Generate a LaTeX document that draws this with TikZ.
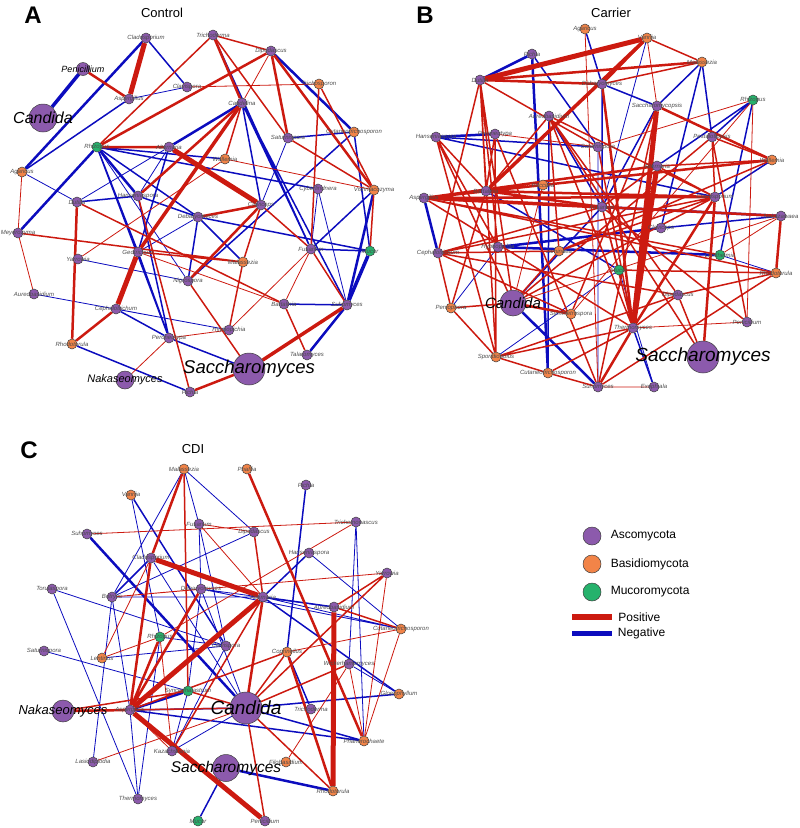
\documentclass[tikz,border=0pt]{standalone}
\usepackage{fontspec}
\setmainfont{Liberation Sans}
\usetikzlibrary{backgrounds}
\definecolor{ascoc}{RGB}{140,90,172}
\definecolor{basic}{RGB}{242,132,72}
\definecolor{mucoc}{RGB}{38,178,108}
\definecolor{posc}{RGB}{204,26,16}
\definecolor{negc}{RGB}{12,12,190}
\begin{document}
\begin{tikzpicture}[
    x=1pt, y=-1pt,
    taxon/.style={circle, draw=black!75, line width=0.5pt, inner sep=0pt, minimum size=10pt},
    asco/.style={taxon, fill=ascoc},
    basi/.style={taxon, fill=basic},
    muco/.style={taxon, fill=mucoc},
    lab/.style={font=\fontsize{6}{6}\selectfont\itshape, text=black!70, inner sep=0pt},
    big/.style={font=\fontsize{#1}{#1}\selectfont\itshape, text=black, inner sep=0pt},
    panel/.style={font=\fontsize{24}{24}\selectfont\bfseries},
    title/.style={font=\fontsize{13}{13}\selectfont},
    legtext/.style={font=\fontsize{12}{12}\selectfont},
    posedge/.style={draw=posc},
    negedge/.style={draw=negc},
    w1/.style={line width=0.8pt},
    w2/.style={line width=1.5pt},
    w3/.style={line width=2.5pt},
    w4/.style={line width=3.5pt},
    w5/.style={line width=5pt}
]
\useasboundingbox (0,0) rectangle (800,828);

% ==================== PANEL A: Control ====================
\node[panel] (aTag) at (33,15) {A};
\node[title] (aTitle) at (162,13) {Control};
\node[asco, label={[lab]center:Cladosporium}] (aCla) at (146,38) {};
\node[asco, minimum size=13pt, label={[big=9]center:Penicillium}] (aPen) at (83,69) {};
\node[asco, label={[lab]center:Aspergillus}] (aAsp) at (129,99) {};
\node[asco, minimum size=28pt, label={[big=16]center:Candida}] (aCan) at (43,118) {};
\node[asco, label={[lab]center:Clavispora}] (aClv) at (187,87) {};
\node[muco, label={[lab]center:Rhizopus}] (aRhi) at (97,147) {};
\node[asco, label={[lab]center:Alternaria}] (aAlt) at (169,147) {};
\node[basi, label={[lab]center:Agaricus}] (aAga) at (22,172) {};
\node[asco, label={[lab]center:Dutilia}] (aDut) at (77,202) {};
\node[asco, label={[lab]center:Hanseniaspora}] (aHan) at (138,196) {};
\node[asco, label={[lab]center:Trichoderma}] (aTri) at (213,35) {};
\node[asco, label={[lab]center:Dipodascus}] (aDip) at (271,51) {};
\node[basi, label={[lab]center:Trichosporon}] (aTrs) at (319,84) {};
\node[asco, label={[lab]center:Candelina}] (aCna) at (242,103) {};
\node[asco, label={[lab]center:Saturnispora}] (aSat) at (288,138) {};
\node[basi, label={[lab]center:Cutaneotrichosporon}] (aCut) at (354,132) {};
\node[basi, label={[lab]center:Wallemia}] (aWal) at (225,159) {};
\node[asco, label={[lab]center:Cyberlindnera}] (aCyb) at (318,189) {};
\node[basi, label={[lab]center:Vishniacozyma}] (aVis) at (374,190) {};
\node[asco, label={[lab]center:Claviceps}] (aClp) at (261,205) {};
\node[asco, label={[lab]center:Debaryomyces}] (aDeb) at (198,217) {};
\node[asco, label={[lab]center:Meyerozyma}] (aMey) at (18,233) {};
\node[asco, label={[lab]center:Yarrowia}] (aYar) at (78,259) {};
\node[asco, label={[lab]center:Geotrichum}] (aGeo) at (138,252) {};
\node[asco, label={[lab]center:Nigrospora}] (aNig) at (188,281) {};
\node[asco, label={[lab]center:Aureobasidium}] (aAur) at (34,294) {};
\node[asco, label={[lab]center:Cephalotrichum}] (aCep) at (116,309) {};
\node[asco, label={[lab]center:Peroneutypa}] (aPer) at (169,338) {};
\node[basi, label={[lab]center:Rhodotorula}] (aRho) at (72,344) {};
\node[asco, minimum size=18pt, label={[big=11]center:Nakaseomyces}] (aNak) at (125,380) {};
\node[asco, label={[lab]center:Pichia}] (aPic) at (190,392) {};
\node[basi, label={[lab]center:Malassezia}] (aMal) at (243,262) {};
\node[asco, label={[lab]center:Fusarium}] (aFus) at (311,249) {};
\node[muco, label={[lab]center:Mucor}] (aMuc) at (370,251) {};
\node[asco, label={[lab]center:Bartalinia}] (aBar) at (284,304) {};
\node[asco, label={[lab]center:Suhomyces}] (aSuh) at (347,305) {};
\node[asco, label={[lab]center:Talaromyces}] (aTal) at (307,355) {};
\node[asco, label={[lab]center:Hyphopichia}] (aHyp) at (229,330) {};
\node[asco, minimum size=32pt, label={[big=18.5]center:Saccharomyces}] (aSac) at (249,369) {};

% ==================== PANEL B: Carrier ====================
\node[panel] (bTag) at (425,15) {B};
\node[title] (bTitle) at (611,13) {Carrier};
\node[basi, label={[lab]center:Agaricus}] (bAga) at (585,29) {};
\node[basi, label={[lab]center:Vanrija}] (bVan) at (647,38) {};
\node[asco, label={[lab]center:Pichia}] (bPic) at (532,54) {};
\node[asco, label={[lab]center:Dutilia}] (bDut) at (480,80) {};
\node[asco, label={[lab]center:Debaryomyces}] (bDeb) at (602,84) {};
\node[basi, label={[lab]center:Malassezia}] (bMal) at (702,62) {};
\node[muco, label={[lab]center:Rhizopus}] (bRhi) at (753,100) {};
\node[asco, label={[lab]center:Saccharomycopsis}] (bSca) at (657,106) {};
\node[asco, label={[lab]center:Aureobasidium}] (bAur) at (549,116) {};
\node[asco, label={[lab]center:Hanseniaspora}] (bHan) at (436,137) {};
\node[asco, label={[lab]center:Peroneutypa}] (bPer) at (495,134) {};
\node[asco, label={[lab]center:Pestalotiopsis}] (bPes) at (712,137) {};
\node[asco, label={[lab]center:Saturnispora}] (bSat) at (598,147) {};
\node[basi, label={[lab]center:Wallemia}] (bWal) at (772,160) {};
\node[asco, label={[lab]center:Alternaria}] (bAlt) at (657,166) {};
\node[basi, label={[lab]center:Puccinia}] (bPuc) at (543,185) {};
\node[asco, label={[lab]center:Bartalinia}] (bBar) at (486,191) {};
\node[asco, label={[lab]center:Aspergillus}] (bAsp) at (424,198) {};
\node[asco, label={[lab]center:Cladosporium}] (bCla) at (715,197) {};
\node[asco, label={[lab]center:Fusarium}] (bFus) at (602,207) {};
\node[asco, label={[lab]center:Nakazawaea}] (bNak) at (781,216) {};
\node[asco, label={[lab]center:Claviceps}] (bClp) at (661,228) {};
\node[asco, label={[lab]center:Hyphopichia}] (bHyp) at (498,247) {};
\node[asco, label={[lab]center:Cephalotrichum}] (bCep) at (438,253) {};
\node[basi, label={[lab]center:Jaminaea}] (bJam) at (559,251) {};
\node[muco, label={[lab]center:Lichtheimia}] (bLic) at (720,255) {};
\node[muco, label={[lab]center:Mucor}] (bMuc) at (619,270) {};
\node[basi, label={[lab]center:Rhodotorula}] (bRho) at (776,273) {};
\node[asco, label={[lab]center:Dipodascus}] (bDip) at (678,295) {};
\node[asco, minimum size=26pt, label={[big=15]center:Candida}] (bCan) at (513,303) {};
\node[basi, label={[lab]center:Peniophora}] (bPep) at (451,308) {};
\node[basi, label={[lab]center:Symmetrospora}] (bSym) at (571,314) {};
\node[asco, label={[lab]center:Penicillium}] (bPnc) at (747,322) {};
\node[asco, label={[lab]center:Thermomyces}] (bThe) at (633,328) {};
\node[basi, label={[lab]center:Sporidiobolus}] (bSpo) at (496,357) {};
\node[asco, minimum size=32pt, label={[big=19]center:Saccharomyces}] (bSac) at (703,357) {};
\node[basi, label={[lab]center:Cutaneotrichosporon}] (bCut) at (548,373) {};
\node[asco, label={[lab]center:Suhomyces}] (bSuh) at (598,387) {};
\node[asco, label={[lab]center:Exophiala}] (bExo) at (654,387) {};

% ==================== PANEL C: CDI ====================
\node[panel] (cTag) at (29,450) {C};
\node[title] (cTitle) at (193,449) {CDI};
\node[basi, label={[lab]center:Malassezia}] (cMal) at (184,469) {};
\node[basi, label={[lab]center:Phaffia}] (cPhf) at (247,469) {};
\node[asco, label={[lab]center:Pichia}] (cPic) at (306,485) {};
\node[basi, label={[lab]center:Vanrija}] (cVan) at (131,495) {};
\node[asco, label={[lab]center:Trichomonascus}] (cTmc) at (356,522) {};
\node[asco, label={[lab]center:Fusarium}] (cFus) at (199,524) {};
\node[asco, label={[lab]center:Dipodascus}] (cDip) at (254,532) {};
\node[asco, label={[lab]center:Suhomyces}] (cSuh) at (87,534) {};
\node[asco, label={[lab]center:Hanseniaspora}] (cHan) at (309,553) {};
\node[asco, label={[lab]center:Cladosporium}] (cCla) at (151,558) {};
\node[asco, label={[lab]center:Yarrowia}] (cYar) at (387,573) {};
\node[asco, label={[lab]center:Torulaspora}] (cTor) at (52,589) {};
\node[asco, label={[lab]center:Debaryomyces}] (cDeb) at (201,589) {};
\node[asco, label={[lab]center:Botrytis}] (cBot) at (112,597) {};
\node[asco, label={[lab]center:Alternaria}] (cAlt) at (263,597) {};
\node[asco, label={[lab]center:Aureobasidium}] (cAur) at (334,607) {};
\node[basi, label={[lab]center:Cutaneotrichosporon}] (cCut) at (401,629) {};
\node[muco, label={[lab]center:Rhizopus}] (cRhi) at (160,637) {};
\node[asco, label={[lab]center:Clavispora}] (cClv) at (226,646) {};
\node[asco, label={[lab]center:Saturnispora}] (cSat) at (44,651) {};
\node[basi, label={[lab]center:Lentinus}] (cLow) at (102,658) {};
\node[basi, label={[lab]center:Coprinellus}] (cCop) at (287,652) {};
\node[asco, label={[lab]center:Wickerhamomyces}] (cWic) at (349,664) {};
\node[muco, label={[lab]center:Syncephalastrum}] (cSyn) at (188,691) {};
\node[basi, label={[lab]center:Gloeophyllum}] (cGlo) at (399,694) {};
\node[asco, label={[lab]center:Aspergillus}] (cAsp) at (130,710) {};
\node[asco, minimum size=22pt, label={[big=13]center:Nakaseomyces}] (cNak) at (63,711) {};
\node[asco, label={[lab]center:Trichoderma}] (cTri) at (311,709) {};
\node[basi, label={[lab]center:Phanerochaete}] (cPhn) at (364,741) {};
\node[asco, label={[lab]center:Kazachstania}] (cKaz) at (172,751) {};
\node[asco, label={[lab]center:Lasiodiplodia}] (cLsd) at (93,762) {};
\node[basi, label={[lab]center:Filobasidium}] (cFil) at (286,762) {};
\node[basi, label={[lab]center:Rhodotorula}] (cRho) at (333,791) {};
\node[asco, label={[lab]center:Thermomyces}] (cThe) at (138,799) {};
\node[muco, label={[lab]center:Mucor}] (cMuc) at (198,821) {};
\node[asco, label={[lab]center:Penicillium}] (cPen) at (265,821) {};
\node[asco, minimum size=32pt, label={[big=19]center:Candida}] (cCan) at (246,708) {};
\node[asco, minimum size=27pt, label={[big=15.5]center:Saccharomyces}] (cSac) at (226,768) {};

% ==================== LEGEND ====================
\node[asco, minimum size=18pt, label={[legtext, xshift=6pt]right:Ascomycota}] (legAsco) at (592,536) {};
\node[basi, minimum size=18pt, label={[legtext, xshift=6pt]right:Basidiomycota}] (legBasi) at (592,564) {};
\node[muco, minimum size=18pt, label={[legtext, xshift=6pt]right:Mucoromycota}] (legMuco) at (592,592) {};
\coordinate (legPosL) at (572,617);
\coordinate (legPosR) at (612,617);
\coordinate (legNegL) at (572,633);
\coordinate (legNegR) at (612,633);
\draw[posedge, line width=6pt] (legPosL) -- (legPosR) node[legtext, right, text=black] (legPos) {Positive};
\draw[negedge, line width=5pt] (legNegL) -- (legNegR) node[legtext, right, text=black] (legNeg) {Negative};

% ==================== EDGES ====================
\begin{pgfonlayer}{background}
% panel A
\draw[negedge, w1] (aAga) -- (aDut) (aAlt) -- (aDut) (aAlt) -- (aHan) (aSat) -- (aClp) (aFus) -- (aCyb)
  (aSuh) -- (aCyb) (aYar) -- (aNig) (aAur) -- (aHyp) (aCep) -- (aHyp) (aGeo) -- (aDeb) (aRhi) -- (aNig)
  (aAsp) -- (aClv);
\draw[negedge, w2] (aCla) -- (aClv) (aAsp) -- (aAga) (aRhi) -- (aGeo) (aRhi) -- (aPer) (aRhi) -- (aWal)
  (aRhi) -- (aCyb) (aRhi) -- (aDeb) (aAlt) -- (aGeo) (aCna) -- (aClp) (aCna) -- (aFus) (aCna) -- (aSuh)
  (aTri) -- (aFus) (aSat) -- (aCut) (aCut) -- (aNig) (aCut) -- (aMuc) (aVis) -- (aFus) (aDeb) -- (aMuc)
  (aDeb) -- (aMal) (aDeb) -- (aNig) (aFus) -- (aMuc) (aBar) -- (aSuh) (aRho) -- (aPic) (aCep) -- (aPer)
  (aPer) -- (aSac) (aGeo) -- (aPer) (aHan) -- (aPer) (aHan) -- (aDeb) (aDut) -- (aHan);
\draw[negedge, w3] (aCla) -- (aAga) (aRhi) -- (aMey) (aRhi) -- (aHan) (aCna) -- (aAlt) (aDip) -- (aCut)
  (aVis) -- (aSuh) (aTal) -- (aSuh);
\draw[negedge, w4] (aCan) -- (aPen) (aMuc) -- (aSuh);
\draw[posedge, w1] (aAga) -- (aMey) (aMey) -- (aAur) (aClv) -- (aTrs) (aDip) -- (aCna) (aYar) -- (aWal)
  (aNak) -- (aPer) (aWal) -- (aVis) (aHyp) -- (aFus) (aFus) -- (aBar) (aPer) -- (aHyp) (aGeo) -- (aBar);
\draw[posedge, w2] (aMey) -- (aMal) (aDut) -- (aBar) (aPic) -- (aHan) (aGeo) -- (aMal) (aTri) -- (aRhi)
  (aTri) -- (aDip) (aTri) -- (aSat) (aTrs) -- (aFus) (aSat) -- (aVis) (aTrs) -- (aVis) (aCna) -- (aWal)
  (aMal) -- (aHyp) (aClp) -- (aMal) (aClp) -- (aFus) (aNig) -- (aSac) (aFus) -- (aSuh) (aBar) -- (aTal)
  (aVis) -- (aMuc);
\draw[posedge, w3] (aPen) -- (aAsp) (aDut) -- (aRho) (aRho) -- (aCep) (aRhi) -- (aAlt) (aRhi) -- (aDip)
  (aTri) -- (aCna) (aDip) -- (aSat) (aDip) -- (aVis) (aCna) -- (aHan) (aClp) -- (aDeb) (aClp) -- (aNig)
  (aSac) -- (aPic);
\draw[posedge, w4] (aCna) -- (aGeo) (aSac) -- (aSuh);
\draw[posedge, w5] (aCla) -- (aAsp) (aCep) -- (aGeo) (aAlt) -- (aClp);
% panel B
\draw[negedge, w1] (bVan) -- (bFus) (bPep) -- (bHyp) (bSpo) -- (bMuc) (bExo) -- (bMuc) (bLic) -- (bRho)
  (bSuh) -- (bSat);
\draw[negedge, w2] (bAga) -- (bDeb) (bPic) -- (bSat) (bMal) -- (bSca) (bMal) -- (bClp) (bDeb) -- (bSca)
  (bRhi) -- (bPes) (bRhi) -- (bAlt) (bRhi) -- (bLic) (bWal) -- (bCla) (bHan) -- (bCla) (bNak) -- (bClp)
  (bThe) -- (bExo) (bAur) -- (bCut) (bAur) -- (bFus) (bHan) -- (bSat) (bBar) -- (bMuc) (bSca) -- (bFus)
  (bDeb) -- (bFus) (bMal) -- (bPes) (bCan) -- (bFus);
\draw[negedge, w3] (bPic) -- (bDut) (bPic) -- (bCut) (bHan) -- (bPer) (bAsp) -- (bCep) (bHyp) -- (bClp)
  (bSuh) -- (bCan) (bNak) -- (bFus) (bHyp) -- (bLic);
\draw[posedge, w1] (bVan) -- (bSca) (bSat) -- (bRhi) (bPer) -- (bSat) (bRhi) -- (bPnc) (bPuc) -- (bBar)
  (bPuc) -- (bCan) (bMuc) -- (bFus) (bSuh) -- (bExo) (bThe) -- (bPnc) (bNak) -- (bLic) (bAga) -- (bSuh)
  (bCan) -- (bNak) (bSym) -- (bRhi);
\draw[posedge, w2] (bVan) -- (bMal) (bMal) -- (bDeb) (bDut) -- (bCep) (bDut) -- (bBar) (bDut) -- (bSat)
  (bDut) -- (bCan) (bHan) -- (bBar) (bHan) -- (bCan) (bPer) -- (bBar) (bPer) -- (bSpo) (bAur) -- (bCla)
  (bAur) -- (bBar) (bAur) -- (bThe) (bAur) -- (bJam) (bPes) -- (bWal) (bPes) -- (bCla) (bPes) -- (bPnc)
  (bWal) -- (bAlt) (bAlt) -- (bFus) (bAlt) -- (bCla) (bCep) -- (bPep) (bCep) -- (bJam) (bCep) -- (bSym)
  (bPep) -- (bCan) (bPep) -- (bSpo) (bPep) -- (bBar) (bCut) -- (bSpo) (bCut) -- (bSuh) (bDip) -- (bSac)
  (bDip) -- (bRho) (bDip) -- (bThe) (bRho) -- (bMuc) (bPnc) -- (bFus) (bSat) -- (bThe) (bFus) -- (bThe)
  (bCan) -- (bJam) (bCep) -- (bDip) (bSpo) -- (bDip) (bCut) -- (bThe) (bSuh) -- (bSca) (bSpo) -- (bThe)
  (bDut) -- (bHyp) (bDut) -- (bSpo) (bAur) -- (bSac) (bAur) -- (bDip) (bHan) -- (bSpo) (bHan) -- (bHyp)
  (bAsp) -- (bRho) (bAsp) -- (bLic) (bCep) -- (bCla) (bCep) -- (bFus) (bCan) -- (bCla) (bCan) -- (bPes)
  (bSuh) -- (bPer) (bSuh) -- (bRho) (bSym) -- (bSca) (bJam) -- (bCla) (bJam) -- (bWal) (bThe) -- (bAsp);
\draw[posedge, w3] (bDut) -- (bDeb) (bVan) -- (bDeb) (bSca) -- (bWal) (bWal) -- (bAsp) (bAsp) -- (bCla)
  (bAsp) -- (bNak) (bCan) -- (bSym) (bCla) -- (bSac) (bThe) -- (bSuh) (bNak) -- (bRho) (bBar) -- (bCla)
  (bBar) -- (bFus) (bDut) -- (bMal) (bAsp) -- (bAlt) (bThe) -- (bCla) (bThe) -- (bDeb);
\draw[posedge, w4] (bBar) -- (bVan) (bAsp) -- (bFus);
\draw[posedge, w5] (bDut) -- (bVan) (bSca) -- (bThe) (bAlt) -- (bThe);
% panel C
\draw[negedge, w1] (cMal) -- (cFus) (cMal) -- (cDip) (cMal) -- (cBot) (cVan) -- (cRhi) (cFus) -- (cDeb)
  (cFus) -- (cClv) (cDip) -- (cBot) (cCla) -- (cCan) (cTor) -- (cClv) (cTor) -- (cThe) (cDeb) -- (cSyn)
  (cDeb) -- (cCan) (cDeb) -- (cAur) (cBot) -- (cAlt) (cBot) -- (cAsp) (cHan) -- (cCut) (cTmc) -- (cWic)
  (cTmc) -- (cPhn) (cCut) -- (cAlt) (cCut) -- (cDeb) (cWic) -- (cGlo) (cThe) -- (cAsp) (cThe) -- (cRhi)
  (cRhi) -- (cClv) (cLow) -- (cClv) (cClv) -- (cKaz) (cSyn) -- (cKaz) (cKaz) -- (cCan) (cSat) -- (cSyn)
  (cLsd) -- (cBot);
\draw[negedge, w2] (cVan) -- (cClv) (cCla) -- (cBot) (cHan) -- (cAlt) (cPic) -- (cCop) (cAur) -- (cAlt)
  (cCan) -- (cGlo) (cAlt) -- (cGlo) (cCop) -- (cTri) (cCan) -- (cPhn) (cMuc) -- (cSac) (cAsp) -- (cCan)
  (cAsp) -- (cPhn);
\draw[negedge, w3] (cSuh) -- (cCan) (cAsp) -- (cSyn) (cRho) -- (cSac);
\draw[posedge, w1] (cFus) -- (cDip) (cFus) -- (cAlt) (cBot) -- (cDeb) (cBot) -- (cYar) (cRhi) -- (cTmc)
  (cSuh) -- (cTmc) (cCut) -- (cPhn) (cFil) -- (cWic) (cLsd) -- (cCan) (cAsp) -- (cKaz) (cRhi) -- (cLow)
  (cRhi) -- (cKaz) (cLow) -- (cCla) (cYar) -- (cPhn) (cPhn) -- (cWic) (cCut) -- (cCop);
\draw[posedge, w2] (cMal) -- (cSyn) (cDip) -- (cAlt) (cAlt) -- (cKaz) (cYar) -- (cAur) (cYar) -- (cCan)
  (cAur) -- (cCut) (cCop) -- (cCan) (cCop) -- (cAsp) (cRho) -- (cCan) (cPen) -- (cCan) (cNak) -- (cSyn)
  (cNak) -- (cCan) (cSyn) -- (cCan) (cCan) -- (cWic);
\draw[posedge, w3] (cMal) -- (cCla) (cPhf) -- (cPhn) (cCla) -- (cAsp) (cAlt) -- (cCan) (cCop) -- (cRho)
  (cNak) -- (cAsp) (cAsp) -- (cRhi) (cDeb) -- (cAsp);
\draw[posedge, w5] (cCla) -- (cAlt) (cAlt) -- (cAsp) (cAur) -- (cRho) (cAsp) -- (cPen);
\end{pgfonlayer}
\end{tikzpicture}
\end{document}
